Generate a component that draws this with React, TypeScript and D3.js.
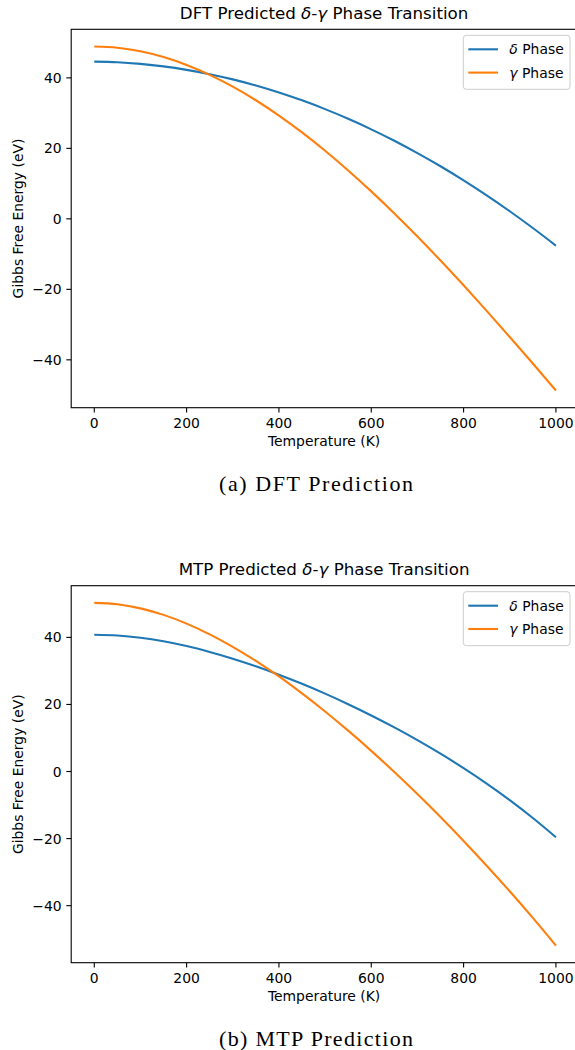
import React from "react";
import * as d3 from "d3";

const temps = [0, 50, 100, 150, 200, 250, 300, 350, 400, 450, 500, 550, 600, 650, 700, 750, 800, 850, 900, 950, 1000];

const dftDelta = [44.6, 44.44, 43.97, 43.25, 42.27, 41.05, 39.57, 37.84, 35.86, 33.62, 31.13, 28.39, 25.4, 22.16, 18.66, 14.92, 10.92, 6.66, 2.16, -2.6, -7.6];
const dftGamma = [48.9, 48.56, 47.55, 45.91, 43.67, 40.86, 37.51, 33.65, 29.31, 24.53, 19.33, 13.74, 7.8, 1.54, -5.01, -11.82, -18.86, -26.1, -33.51, -41.05, -48.7];

const mtpDelta = [40.8, 40.56, 39.89, 38.82, 37.4, 35.67, 33.66, 31.39, 28.88, 26.16, 23.22, 20.07, 16.72, 13.15, 9.36, 5.31, 1.0, -3.61, -8.55, -13.87, -19.6];
const mtpGamma = [50.3, 49.88, 48.65, 46.71, 44.11, 40.91, 37.19, 32.98, 28.34, 23.3, 17.91, 12.18, 6.16, -0.16, -6.74, -13.59, -20.7, -28.08, -35.72, -43.66, -51.9];

const xTicks = [0, 200, 400, 600, 800, 1000];
const yTicks = [-40, -20, 0, 20, 40];

const seriesNames = ["δ", "γ"];
const colors = ["#1f77b4", "#ff7f0e"];

const SANS = "DejaVu Sans, sans-serif";
const SERIF = "Liberation Serif, Times New Roman, serif";

type PanelProps = {
  top: number;
  bottom: number;
  prefix: string;
  caption: string;
  delta: number[];
  gamma: number[];
};

function Panel({ top, bottom, prefix, caption, delta, gamma }: PanelProps) {
  const left = 71.2;
  const right = 579;
  const x = d3.scaleLinear().domain([-50, 1050]).range([left, right]);
  const all = delta.concat(gamma);
  const [mn, mx] = d3.extent(all) as [number, number];
  const pad = (mx - mn) * 0.05;
  const y = d3.scaleLinear().domain([mn - pad, mx + pad]).range([bottom, top]);
  const line = d3
    .line<number>()
    .x((_, i) => x(temps[i]))
    .y((d) => y(d))
    .curve(d3.curveMonotoneX);
  const series = [delta, gamma];
  const tickLen = 4.9;
  const legX = 463.3;
  const legY = top + 6;
  return (
    <g>
      <text x={(left + 573) / 2 + 2} y={top - 10.5} textAnchor="middle" fontFamily={SANS} fontSize={16.7} fill="#000">
        {prefix} Predicted <tspan fontStyle="italic">δ</tspan>-<tspan fontStyle="italic">γ</tspan> Phase Transition
      </text>
      {series.map((s, k) => (
        <path key={k} d={line(s) || ""} fill="none" stroke={colors[k]} strokeWidth={2.1} />
      ))}
      <rect x={left} y={top} width={right - left} height={bottom - top} fill="none" stroke="#000" strokeWidth={1.1} />
      {xTicks.map((t) => (
        <g key={t}>
          <line x1={x(t)} x2={x(t)} y1={bottom} y2={bottom + tickLen} stroke="#000" strokeWidth={1.1} />
          <text x={x(t)} y={bottom + 20} textAnchor="middle" fontFamily={SANS} fontSize={13.9} fill="#000">
            {t}
          </text>
        </g>
      ))}
      {yTicks.map((t) => (
        <g key={t}>
          <line x1={left - tickLen} x2={left} y1={y(t)} y2={y(t)} stroke="#000" strokeWidth={1.1} />
          <text x={left - 9.5} y={y(t) + 5} textAnchor="end" fontFamily={SANS} fontSize={13.9} fill="#000">
            {t < 0 ? "\u2212" + Math.abs(t) : t}
          </text>
        </g>
      ))}
      <text x={(left + 573) / 2 + 2} y={bottom + 38.5} textAnchor="middle" fontFamily={SANS} fontSize={13.9} fill="#000">
        Temperature (K)
      </text>
      <text
        transform={`translate(23,${(top + bottom) / 2}) rotate(-90)`}
        textAnchor="middle"
        fontFamily={SANS}
        fontSize={13.9}
        fill="#000"
      >
        Gibbs Free Energy (eV)
      </text>
      <rect x={legX} y={legY} width={106.7} height={54} rx={3} ry={3} fill="#fff" fillOpacity={0.8} stroke="#cccccc" strokeWidth={1} />
      {seriesNames.map((n, k) => (
        <g key={n}>
          <line x1={legX + 5} x2={legX + 34.7} y1={legY + 14 + k * 23.3} y2={legY + 14 + k * 23.3} stroke={colors[k]} strokeWidth={2.1} />
          <text x={legX + 46} y={legY + 19 + k * 23.3} fontFamily={SANS} fontSize={13.9} fill="#000">
            <tspan fontStyle="italic">{n}</tspan> Phase
          </text>
        </g>
      ))}
      <text x={316} y={bottom + 83} textAnchor="middle" fontFamily={SERIF} fontSize={22} textLength={194} lengthAdjust="spacing" fill="#000">
        {caption}
      </text>
    </g>
  );
}

export default function App() {
  return (
    <svg width={575} height={1050} style={{ position: "absolute", left: 0, top: 0, background: "#fff" }}>
      <rect x={0} y={0} width={575} height={1050} fill="#fff" />
      <Panel top={29.3} bottom={407.7} prefix="DFT" caption="(a) DFT Prediction" delta={dftDelta} gamma={dftGamma} />
      <Panel top={585.7} bottom={962.7} prefix="MTP" caption="(b) MTP Prediction" delta={mtpDelta} gamma={mtpGamma} />
    </svg>
  );
}
